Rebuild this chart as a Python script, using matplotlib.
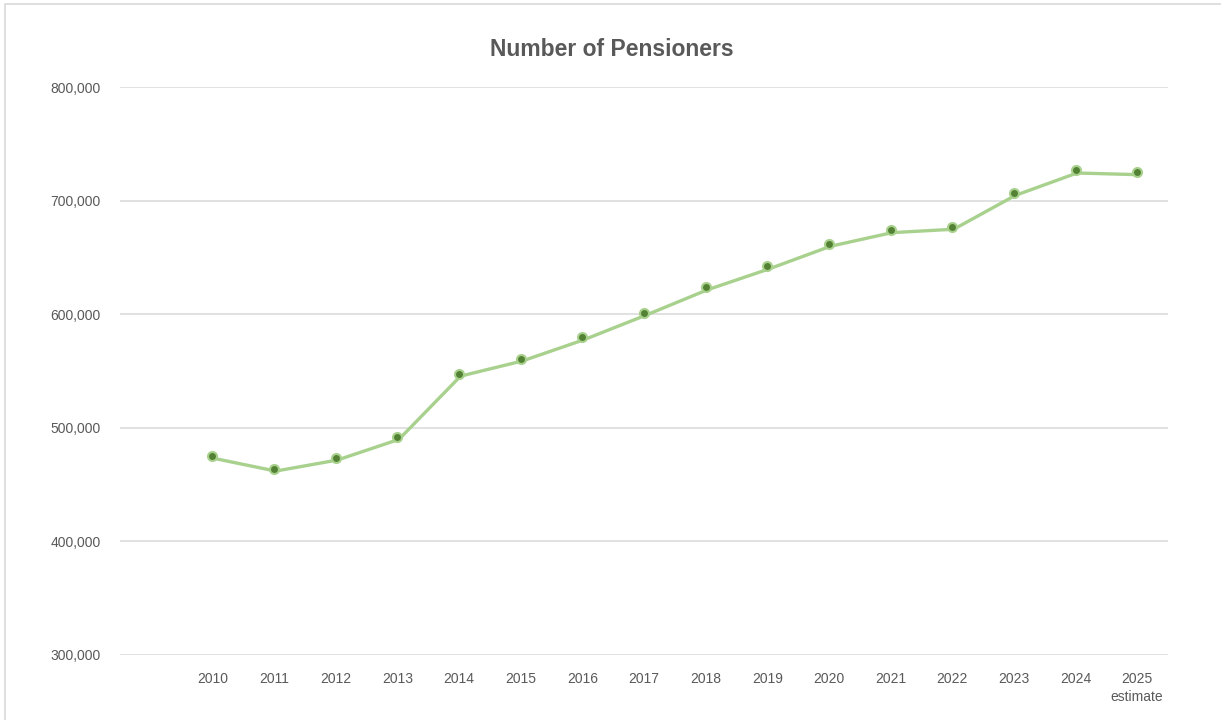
import matplotlib
matplotlib.use("Agg")
import matplotlib.pyplot as plt
import matplotlib.transforms as mtransforms
from matplotlib.patches import Rectangle
from matplotlib.ticker import FuncFormatter

years = ["2010", "2011", "2012", "2013", "2014", "2015", "2016", "2017",
         "2018", "2019", "2020", "2021", "2022", "2023", "2024", "2025\nestimate"]
pensioners = [475300, 464100, 473800, 492000, 547700, 561000, 579700, 601200,
              623600, 642000, 662000, 674000, 677000, 706800, 726500, 725000]
y_ticks = [300000, 400000, 500000, 600000, 700000, 800000]

TEXT = "#595959"
GRID = "#d9d9d9"
LINE = "#a9d18e"
MARK = "#548235"

plt.rcParams["font.family"] = ["Liberation Sans", "DejaVu Sans"]

fig = plt.figure(figsize=(12.21, 7.2), dpi=100)
ax = fig.add_axes([120 / 1221, 1 - 655 / 720, 1048 / 1221, 568 / 720])

# chart-area border (left/top visible in the reference)
fig.patches.append(Rectangle((5 / 1221, -0.05), 1.2, 1.05 - 4 / 720,
                             transform=fig.transFigure, fill=False,
                             edgecolor=GRID, linewidth=1.2))

xs = list(range(len(years)))
# the line sits a touch below/right of the markers in the original
shifted = mtransforms.offset_copy(ax.transData, fig=fig, x=1.5, y=-2.5, units="dots")
ax.plot(xs, pensioners, color=LINE, linewidth=2.4, solid_capstyle="round",
        transform=shifted, zorder=2)
ax.plot(xs, pensioners, linestyle="none", marker="o", markersize=6.5,
        markerfacecolor=MARK, markeredgecolor=LINE, markeredgewidth=1.5, zorder=3)

ax.set_xlim(-1.5, len(years) - 0.5)
ax.set_ylim(300000, 800000)
ax.set_yticks(y_ticks)
ax.yaxis.set_major_formatter(FuncFormatter(lambda v, _: f"{int(v):,}"))
ax.set_xticks(xs)
ax.set_xticklabels(years, linespacing=1.35)

ax.grid(axis="y", color=GRID, linewidth=1.1)
ax.set_axisbelow(True)
for s in ax.spines.values():
    s.set_visible(False)
ax.tick_params(axis="y", length=0, pad=14, labelsize=10, labelcolor=TEXT)
ax.tick_params(axis="x", length=0, pad=12.5, labelsize=10, labelcolor=TEXT)

fig.text(612 / 1221, 1 - 50 / 720, "Number of Pensioners", ha="center", va="center",
         fontsize=16.5, fontweight="bold", color=TEXT)

fig.savefig("out.png", dpi=100)
